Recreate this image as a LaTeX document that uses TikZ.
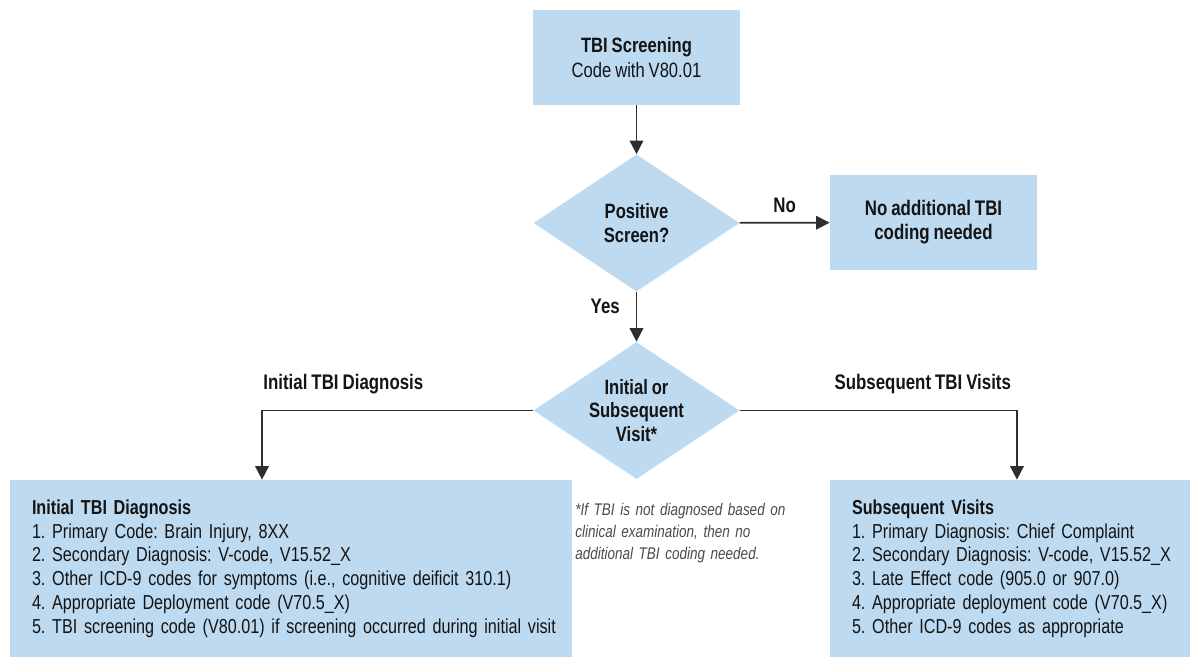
\documentclass[tikz,border=0pt]{standalone}
\usepackage{fontspec}
\setmainfont[FakeStretch=0.8,WordSpace=0.85]{Liberation Sans}
\usepackage{xcolor}
\usepackage{tikz}
\usetikzlibrary{shapes,arrows,positioning,calc,arrows.meta}
\definecolor{boxblue}{HTML}{BDDAF1}
\definecolor{inkgray}{HTML}{141414}
\definecolor{linegray}{HTML}{2E2E2E}
\definecolor{notegray}{HTML}{4A4A4A}
\frenchspacing

\begin{document}
\begin{tikzpicture}[
  box/.style={fill=boxblue, text=inkgray, align=center, inner sep=0,
    minimum width=4.14cm, minimum height=1.9cm,
    font=\fontsize{11.8}{14.2}\selectfont},
  decision/.style={diamond, fill=boxblue, text=inkgray, align=center, inner sep=0,
    shape aspect=1.5, minimum width=4.12cm, minimum height=2.74cm,
    font=\fontsize{11.8}{13.4}\selectfont\bfseries},
  listbox/.style={fill=boxblue, text=inkgray, align=left, inner xsep=0.44cm,
    minimum height=3.56cm, font=\fontsize{11.5}{13.5}\selectfont},
  note/.style={text=notegray, align=left, inner sep=0, text width=4.5cm,
    font=\fontsize{9.6}{12.4}\selectfont\itshape},
  lbl/.style={text=inkgray, font=\fontsize{12}{14}\selectfont\bfseries},
  arrow/.style={draw=linegray, line width=0.95pt, -{Triangle[length=0.27cm,width=0.27cm]}}]
  \useasboundingbox (0,0) rectangle (23.8,-13.12);
  \node[box] (screen) at (12.73,-1.15) {\textbf{TBI Screening}\\Code with V80.01};
  \node[decision] (positive) at (12.73,-4.46) {Positive\\Screen?};
  \node[box, font=\fontsize{12}{13.6}\selectfont\bfseries] (nocode) at (18.67,-4.45) {No additional TBI\\coding needed};
  \node[decision] (visit) at (12.73,-8.21) {Initial or\\Subsequent\\Visit*};
  \node[listbox, text width=10.36cm] (initial) at (5.82,-11.38) {\begin{tabular}{@{}l@{}}
    \textbf{Initial TBI Diagnosis}\\
    1. Primary Code: Brain Injury, 8XX\\
    2. Secondary Diagnosis: V-code, V15.52\_X\\
    3. Other ICD-9 codes for symptoms (i.e., cognitive deificit 310.1)\\
    4. Appropriate Deployment code (V70.5\_X)\\
    5. TBI screening code (V80.01) if screening occurred during initial visit
  \end{tabular}};
  \node[listbox, text width=6.34cm] (subsequent) at (20.21,-11.38) {\begin{tabular}{@{}l@{}}
    \textbf{Subsequent Visits}\\
    1. Primary Diagnosis: Chief Complaint\\
    2. Secondary Diagnosis: V-code, V15.52\_X\\
    3. Late Effect code (905.0 or 907.0)\\
    4. Appropriate deployment code (V70.5\_X)\\
    5. Other ICD-9 codes as appropriate
  \end{tabular}};
  \node[note, anchor=north west] (footnote) at (11.5,-10.06) {*If TBI is not diagnosed based on\\clinical examination, then no\\additional TBI coding needed.};

  \draw[arrow] (screen) -- (positive);
  \draw[arrow] (positive) -- node[lbl, above=2pt] {No} (nocode);
  \draw[arrow] (positive) -- node[lbl, left=0.2cm, pos=0.3] {Yes} (visit);
  \draw[arrow] (visit.west) -| node[lbl, above=0.2cm, pos=0.35] {Initial TBI Diagnosis} ([xshift=-0.58cm]initial.north);
  \draw[arrow] (visit.east) -| node[lbl, above=0.2cm, pos=0.33] {Subsequent TBI Visits} ([xshift=0.13cm]subsequent.north);
\end{tikzpicture}
\end{document}
